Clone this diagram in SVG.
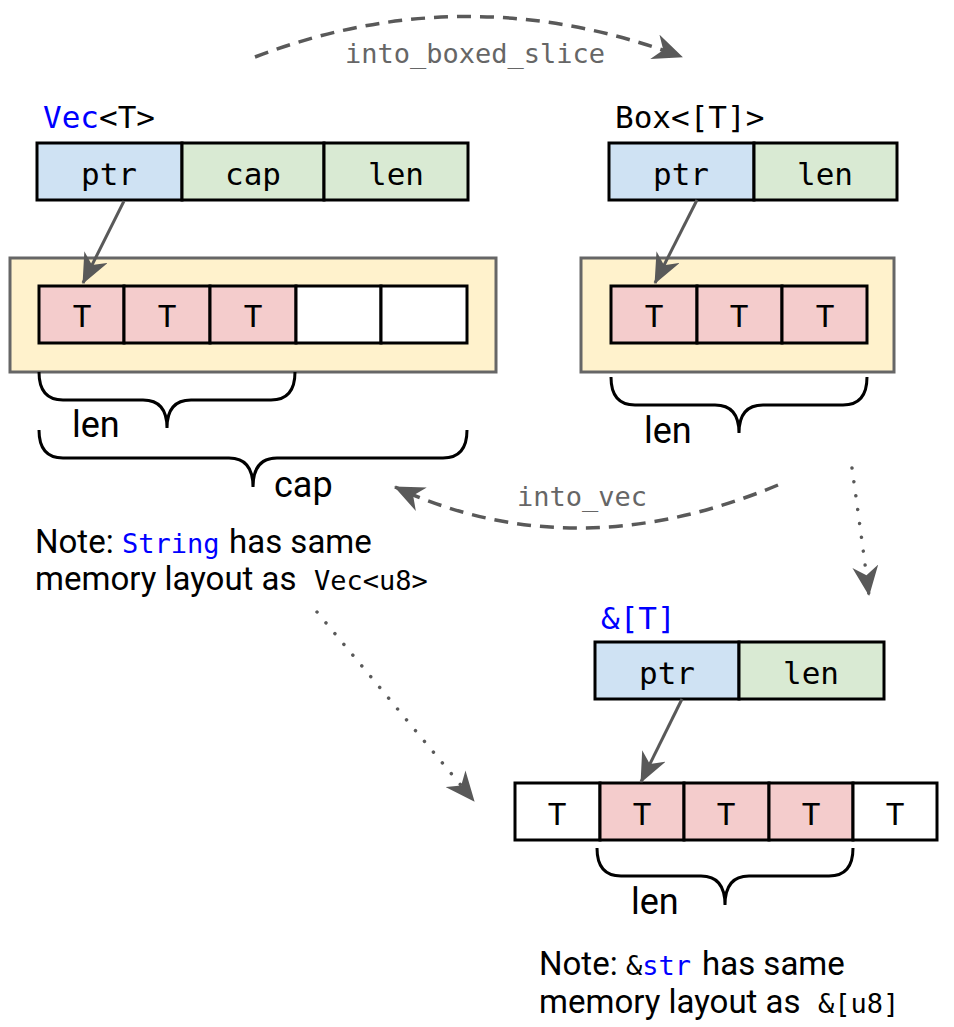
<svg xmlns="http://www.w3.org/2000/svg" width="954" height="1027" viewBox="0 0 954 1027">
<style>
.mono{font-family:"DejaVu Sans Mono","Liberation Mono",monospace}
.sans{font-family:Roboto,"Liberation Sans",sans-serif}
.hdr{font-size:31px;fill:#000}
.cellt{font-size:31px;fill:#000;text-anchor:middle}
.blue{fill:#0000ff}
.ptr{fill:#cfe2f3;stroke:#000;stroke-width:3}
.grn{fill:#d9ead3;stroke:#000;stroke-width:3}
.pink{fill:#f4cccc;stroke:#000;stroke-width:3}
.wht{fill:#fff;stroke:#000;stroke-width:3}
.heap{fill:#fff2cc;stroke:#666;stroke-width:3}
.brace{fill:none;stroke:#000;stroke-width:3}
.lbl{font-size:36px;fill:#000}
.note{font-size:33px;fill:#000}
.nmono{font-size:27px}
.conv{font-size:27px;fill:#666}
.arr{fill:none;stroke:#595959;stroke-width:3}
.dash{fill:none;stroke:#595959;stroke-width:3.5;stroke-dasharray:14 9}
.dot{fill:none;stroke:#595959;stroke-width:3.5;stroke-dasharray:0.01 14;stroke-linecap:round}
</style>
<defs>
<marker id="ah" markerUnits="userSpaceOnUse" markerWidth="30" markerHeight="26" viewBox="0 0 30 26" refX="29" refY="13" orient="auto">
<path d="M30,13 L0,0 L9,13 L0,26 z" fill="#595959"/>
</marker>
</defs>

<g id="vec">
<text class="mono hdr" x="43" y="128"><tspan class="blue">Vec</tspan>&lt;T&gt;</text>
<rect class="ptr" x="37" y="143" width="145" height="57"/>
<rect class="grn" x="182" y="143" width="142" height="57"/>
<rect class="grn" x="324" y="143" width="144" height="57"/>
<text class="mono cellt" x="109" y="185">ptr</text>
<text class="mono cellt" x="253" y="185">cap</text>
<text class="mono cellt" x="396" y="185">len</text>
</g>

<g id="vec-heap">
<rect class="heap" x="10" y="258" width="486" height="114"/>
<rect class="pink" x="39" y="286" width="85" height="57"/>
<rect class="pink" x="124" y="286" width="86" height="57"/>
<rect class="pink" x="210" y="286" width="86" height="57"/>
<rect class="wht" x="296" y="286" width="85" height="57"/>
<rect class="wht" x="381" y="286" width="86" height="57"/>
<text class="mono cellt" x="82" y="327">T</text>
<text class="mono cellt" x="167" y="327">T</text>
<text class="mono cellt" x="253" y="327">T</text>
</g>

<g id="vec-len">
<path class="brace" d="M39,372 Q39,400 63,400 L143,400 Q167,400 167,428 Q167,400 191,400 L271,400 Q295,400 295,372"/>
<text class="sans lbl" x="72" y="437">len</text>
</g>

<g id="vec-cap">
<path class="brace" d="M39,430 Q39,458 63,458 L229,458 Q253,458 253,487 Q253,458 277,458 L443,458 Q467,458 467,430"/>
<text class="sans lbl" x="274" y="497">cap</text>
</g>

<g id="note-string">
<text class="sans note" x="35" y="553">Note: <tspan class="mono nmono blue" x="122">String</tspan><tspan x="229">has same</tspan></text>
<text class="sans note" x="35" y="590">memory layout as <tspan class="mono nmono" x="314">Vec&lt;u8&gt;</tspan></text>
</g>

<g id="box">
<text class="mono hdr" x="615" y="128">Box&lt;[T]&gt;</text>
<rect class="ptr" x="609" y="143" width="145" height="57"/>
<rect class="grn" x="754" y="143" width="143" height="57"/>
<text class="mono cellt" x="681" y="185">ptr</text>
<text class="mono cellt" x="825" y="185">len</text>
</g>

<g id="box-heap">
<rect class="heap" x="581" y="258" width="313" height="114"/>
<rect class="pink" x="611" y="286" width="86" height="57"/>
<rect class="pink" x="697" y="286" width="85" height="57"/>
<rect class="pink" x="782" y="286" width="85" height="57"/>
<text class="mono cellt" x="654" y="327">T</text>
<text class="mono cellt" x="739" y="327">T</text>
<text class="mono cellt" x="825" y="327">T</text>
</g>

<g id="box-len">
<path class="brace" d="M611,377 Q611,405 635,405 L715,405 Q739,405 739,433 Q739,405 763,405 L843,405 Q867,405 867,377"/>
<text class="sans lbl" x="644" y="443">len</text>
</g>

<g id="slice">
<text class="mono hdr blue" x="601" y="629">&amp;[T]</text>
<rect class="ptr" x="595" y="642" width="144" height="57"/>
<rect class="grn" x="739" y="642" width="145" height="57"/>
<text class="mono cellt" x="667" y="684">ptr</text>
<text class="mono cellt" x="811" y="684">len</text>
</g>

<g id="slice-mem">
<rect class="wht" x="515" y="783" width="85" height="57"/>
<rect class="pink" x="600" y="783" width="84" height="57"/>
<rect class="pink" x="684" y="783" width="85" height="57"/>
<rect class="pink" x="769" y="783" width="84" height="57"/>
<rect class="wht" x="853" y="783" width="84" height="57"/>
<text class="mono cellt" x="557" y="825">T</text>
<text class="mono cellt" x="642" y="825">T</text>
<text class="mono cellt" x="726" y="825">T</text>
<text class="mono cellt" x="811" y="825">T</text>
<text class="mono cellt" x="895" y="825">T</text>
</g>

<g id="slice-len">
<path class="brace" d="M597,848 Q597,876 621,876 L701,876 Q725,876 725,905 Q725,876 749,876 L829,876 Q853,876 853,848"/>
<text class="sans lbl" x="631" y="914">len</text>
</g>

<g id="note-str">
<text class="sans note" x="539" y="975">Note: <tspan class="mono nmono" x="626">&amp;</tspan><tspan class="mono nmono blue">str</tspan><tspan x="702">has same</tspan></text>
<text class="sans note" x="539" y="1013">memory layout as <tspan class="mono nmono" x="818">&amp;[u8]</tspan></text>
</g>

<g id="connectors">
<path class="arr" d="M124,201 L83,283" marker-end="url(#ah)"/>
<path class="arr" d="M697,200 L655,283" marker-end="url(#ah)"/>
<path class="arr" d="M682,699 L641,782" marker-end="url(#ah)"/>
<path class="dash" d="M255,57 Q467,-24 682,57" marker-end="url(#ah)"/>
<text class="mono conv" x="345" y="63">into_boxed_slice</text>
<path class="dash" d="M778,485 Q574,570 395,487" marker-end="url(#ah)"/>
<text class="mono conv" x="517" y="506">into_vec</text>
<path class="dot" d="M852,468 Q860,525 869,595" marker-end="url(#ah)"/>
<path class="dot" d="M317,612 L474,801" marker-end="url(#ah)"/>
</g>
</svg>
